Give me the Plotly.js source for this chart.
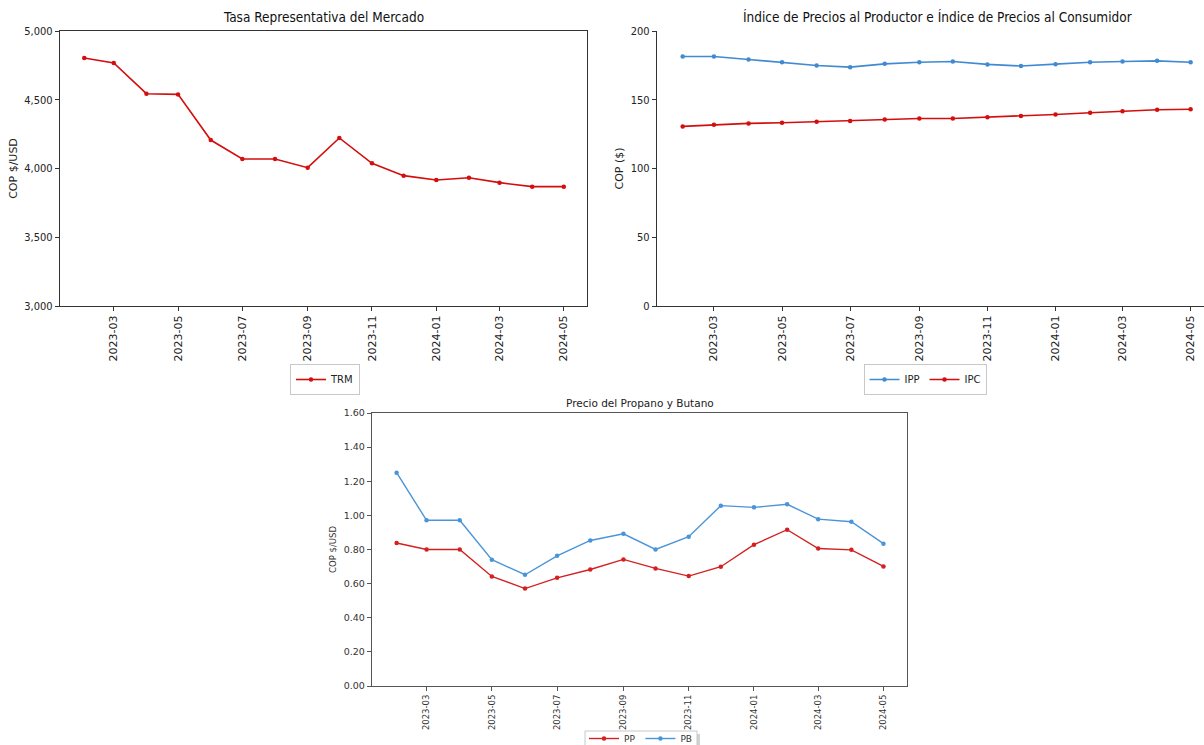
<!DOCTYPE html>
<html>
<head>
<meta charset="utf-8">
<script src="https://cdn.plot.ly/plotly-3.0.1.min.js"></script>
<style>html,body{margin:0;padding:0;background:#fff;}#chart{width:1204px;height:745px;}</style>
</head>
<body>
<div id="chart"></div>
<script>
// ---- data ----
const months = ["2023-02-01","2023-03-01","2023-04-01","2023-05-01","2023-06-01","2023-07-01","2023-08-01","2023-09-01",
                "2023-10-01","2023-11-01","2023-12-01","2024-01-01","2024-02-01","2024-03-01","2024-04-01","2024-05-01"];
const trm = [4804, 4767, 4544, 4539, 4207, 4069, 4069, 4006, 4222, 4038, 3948, 3916, 3933, 3897, 3868, 3868];
const ipp = [181.4, 181.4, 179.3, 177.3, 174.9, 173.7, 176.1, 177.3, 177.8, 175.7, 174.5, 175.9, 177.3, 177.8, 178.3, 177.3];
const ipc = [130.6, 131.8, 132.8, 133.3, 134.0, 134.5, 135.7, 136.4, 136.4, 137.3, 138.1, 139.3, 140.5, 141.7, 142.7, 143.1];
const pp  = [0.838, 0.800, 0.800, 0.642, 0.571, 0.634, 0.683, 0.742, 0.689, 0.644, 0.699, 0.828, 0.916, 0.806, 0.798, 0.701];
const pb  = [1.250, 0.971, 0.971, 0.740, 0.652, 0.763, 0.853, 0.892, 0.800, 0.875, 1.057, 1.047, 1.065, 0.978, 0.963, 0.834];

const titles = ["Tasa Representativa del Mercado",
                "Índice de Precios al Productor e Índice de Precios al Consumidor",
                "Precio del Propano y Butano"];
const yTitles = ["COP $/USD", "COP ($)", "COP $/USD"];

// ---- styling ----
const RED = "#d40d0d", BLUE = "#3f8ad3", RED2 = "#d42020", BLUE2 = "#4a94d8";
const t0 = new Date(months[0]).getTime(), t1 = new Date(months[months.length-1]).getTime();
const span = t1 - t0;
const iso = ms => new Date(ms).toISOString().slice(0,10);
const W = 1204, H = 745;
const px = v => v / W, py = v => 1 - v / H;
const COND = "DejaVu Sans Condensed, Liberation Sans Narrow, DejaVu Sans, sans-serif";
const DJ = "DejaVu Sans, sans-serif";

function line(name, y, color, xa, ya, leg, w) {
  return {x: months, y: y, name: name, type: "scatter", mode: "lines+markers",
    line: {color: color, width: w || 1.6}, marker: {color: color, size: 4.5},
    xaxis: xa, yaxis: ya, legend: leg, hoverinfo: "x+y"};
}

const data = [
  line("TRM", trm, RED, "x", "y", "legend"),
  line("IPP", ipp, BLUE, "x2", "y2", "legend2"),
  line("IPC", ipc, RED, "x2", "y2", "legend2"),
  line("PP", pp, RED2, "x3", "y3", "legend3", 1.4),
  line("PB", pb, BLUE2, "x3", "y3", "legend3", 1.4)
];

function xax(domain, range, anchor, fs, col, lc) {
  return {domain: domain, anchor: anchor, type: "date", range: range, automargin: false,
    tick0: "2023-03-01", dtick: "M2", tickformat: "%Y-%m", tickangle: -90,
    ticks: "outside", ticklen: 4, tickcolor: lc, tickwidth: 1,
    tickfont: {family: DJ, size: fs, color: col},
    showline: true, linecolor: lc, linewidth: 1.2, mirror: true, showgrid: false, zeroline: false};
}
function yax(domain, range, dtick, fmt, anchor, title, tfs, fs, col, lc, fam, standoff) {
  return {domain: domain, anchor: anchor, range: range, dtick: dtick, tickformat: fmt, automargin: false,
    ticks: "outside", ticklen: 4, tickcolor: lc, tickwidth: 1,
    tickfont: {family: fam, size: fs, color: col},
    title: {text: title, font: {family: DJ, size: tfs, color: col}, standoff: standoff},
    showline: true, linecolor: lc, linewidth: 1.2, mirror: true, showgrid: false, zeroline: false};
}

const r1 = [iso(t0 - 0.05*span), iso(t1 + 0.05*span)];
const r2 = [iso(t0 - 0.05*span), iso(t1 + 0.028*span)];
const r3 = [iso(t0 - 0.05*span), iso(t1 + 0.05*span)];

const legBase = {orientation: "h", xanchor: "center", yanchor: "top", bgcolor: "#fff",
  bordercolor: "#c8c8c8", borderwidth: 1, tracegroupgap: 0};

const layout = {
  width: W, height: H, margin: {l: 0, r: 0, t: 0, b: 0, autoexpand: false},
  paper_bgcolor: "#fff", plot_bgcolor: "#fff", showlegend: true,
  xaxis:  xax([px(60), px(587)], r1, "y", 11, "#222", "#333"),
  yaxis:  yax([py(306), py(31)], [3000, 5000], 500, ",", "x", yTitles[0], 11, 11, "#222", "#333", COND, 4),
  xaxis2: xax([px(657), 1], r2, "y2", 11, "#222", "#333"),
  yaxis2: yax([py(306), py(31)], [0, 200], 50, "", "x2", yTitles[1], 11, 11, "#222", "#333", COND, 4),
  xaxis3: xax([px(372), px(907)], r3, "y3", 8.5, "#333", "#555"),
  yaxis3: yax([py(686), py(413)], [0, 1.6], 0.2, ".2f", "x3", yTitles[2], 8.5, 9.5, "#333", "#555", DJ, 5),
  legend:  Object.assign({}, legBase, {x: px(325), y: py(364), font: {family: DJ, size: 10, color: "#222"}}),
  legend2: Object.assign({}, legBase, {x: px(925), y: py(364), font: {family: DJ, size: 10, color: "#222"}}),
  legend3: Object.assign({}, legBase, {x: px(641), y: py(724), bgcolor: "rgba(0,0,0,0)", borderwidth: 0,
                                        font: {family: DJ, size: 9, color: "#333"}}),
  shapes: [
    // frame + soft shadow of the bottom legend (the legend itself sits partly below the page edge)
    {type: "rect", xref: "paper", yref: "paper", x0: px(588), x1: px(700), y0: py(748), y1: py(734),
     line: {width: 0}, fillcolor: "rgba(0,0,0,0.18)", layer: "above"},
    {type: "rect", xref: "paper", yref: "paper", x0: px(585), x1: px(697), y0: py(748), y1: py(731),
     line: {width: 1, color: "#c8c8c8"}, fillcolor: "#fff", layer: "above"}
  ],
  annotations: [
    {text: titles[0], xref: "x domain", yref: "paper", x: 0.5, y: py(27), xanchor: "center", yanchor: "bottom",
     showarrow: false, font: {family: COND, size: 13.5, color: "#111"}},
    {text: titles[1], xref: "paper", yref: "paper", x: px(937), y: py(27), xanchor: "center", yanchor: "bottom",
     showarrow: false, font: {family: COND, size: 13.5, color: "#111"}},
    {text: titles[2], xref: "x3 domain", yref: "paper", x: 0.5, y: py(411), xanchor: "center", yanchor: "bottom",
     showarrow: false, font: {family: DJ, size: 10.5, color: "#222"}}
  ]
};
// no right spine on the top-right panel (it runs off the page)
layout.xaxis2.mirror = false;
layout.yaxis2.mirror = false;

Plotly.newPlot("chart", data, layout, {displayModeBar: false, staticPlot: true});
</script>
</body>
</html>
